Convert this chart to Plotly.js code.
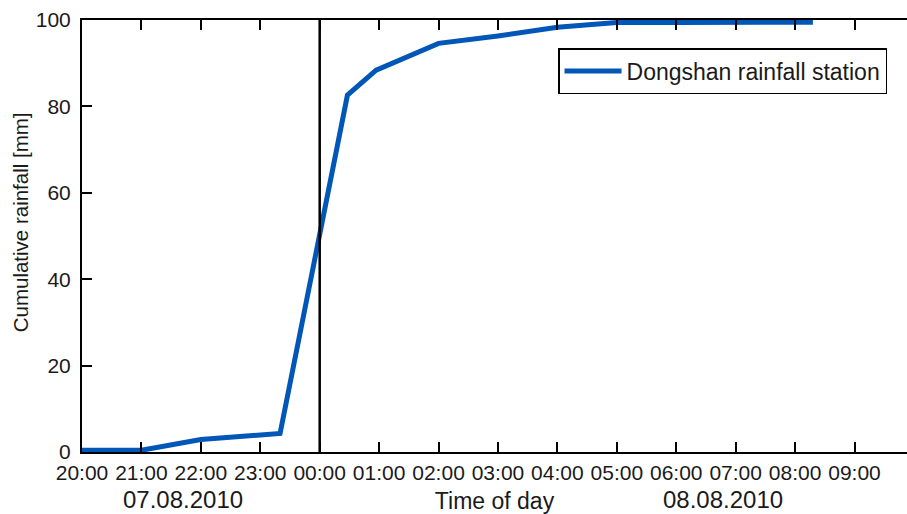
<!DOCTYPE html>
<html>
<head>
<meta charset="utf-8">
<script src="https://cdn.plot.ly/plotly-3.0.1.min.js"></script>
<style>html,body{margin:0;padding:0;background:#fff;}#chart{width:907px;height:514px;}</style>
</head>
<body>
<div id="chart"></div>
<script>
// Data
const times = ['2010-08-07 20:00','2010-08-07 21:00','2010-08-07 22:00','2010-08-07 23:00','2010-08-07 23:20',
  '2010-08-08 00:28','2010-08-08 00:57','2010-08-08 02:00','2010-08-08 03:00','2010-08-08 04:00',
  '2010-08-08 05:00','2010-08-08 06:00','2010-08-08 07:00','2010-08-08 08:00','2010-08-08 08:18'];
const rainfall = [0.4,0.4,2.9,4.1,4.3,82.6,88.4,94.6,96.3,98.3,99.4,99.4,99.4,99.4,99.5];
const seriesName = 'Dongshan rainfall station';
const markerTime = '2010-08-08 00:00';
const dateLabels = ['07.08.2010','08.08.2010'];
const xTitle = 'Time of day';
const yTitle = 'Cumulative rainfall [mm]';

const font = 'Liberation Sans, Arial, Helvetica, sans-serif';
const txt = '#1a1a1a';
const trace = {
  x: times, y: rainfall, type: 'scatter', mode: 'lines', name: seriesName,
  line: {color: '#0057b7', width: 5}
};
const layout = {
  width: 907, height: 514,
  margin: {l: 82, r: 0, t: 20, b: 62},
  paper_bgcolor: '#fff', plot_bgcolor: '#fff',
  font: {family: font, size: 21, color: txt},
  showlegend: true,
  legend: {x: 0.577, y: 0.935, xanchor: 'left', yanchor: 'top', bordercolor: '#000', borderwidth: 1.5,
    itemwidth: 57, bgcolor: '#fff', font: {size: 23, family: font, color: txt}},
  xaxis: {
    type: 'date', range: ['2010-08-07 20:00', '2010-08-08 09:53'],
    tickformat: '%H:%M', dtick: 3600000, tick0: '2010-08-07 20:00',
    ticks: 'inside', ticklen: 10, tickwidth: 2, tickcolor: '#000', ticklabelstandoff: 1,
    showline: true, linecolor: '#000', linewidth: 2, mirror: 'ticks',
    showgrid: false, zeroline: false,
    tickfont: {size: 21, family: font, color: txt},
    title: {text: xTitle, font: {size: 23, family: font, color: txt}, standoff: 27}
  },
  yaxis: {
    range: [0, 100], dtick: 20,
    ticks: 'inside', ticklen: 10, tickwidth: 2, tickcolor: '#000', ticklabelstandoff: 5,
    showline: true, linecolor: '#000', linewidth: 2, mirror: false,
    showgrid: false, zeroline: false,
    tickfont: {size: 21, family: font, color: txt}
  },
  shapes: [{type: 'line', xref: 'x', yref: 'paper', x0: markerTime, x1: markerTime, y0: 0, y1: 1,
    line: {color: '#000', width: 2.5}}],
  annotations: [
    {text: yTitle, xref: 'paper', yref: 'paper', x: -0.075, y: 0.532, showarrow: false, textangle: -90,
      xanchor: 'center', yanchor: 'middle', font: {size: 20.5, family: font, color: txt}},
    {text: dateLabels[0], xref: 'paper', yref: 'paper', x: 0.122, y: -0.111, showarrow: false,
      xanchor: 'center', yanchor: 'middle', borderpad: 0, font: {size: 24, family: font, color: txt}},
    {text: dateLabels[1], xref: 'paper', yref: 'paper', x: 0.777, y: -0.111, showarrow: false,
      xanchor: 'center', yanchor: 'middle', borderpad: 0, font: {size: 24, family: font, color: txt}}
  ]
};
Plotly.newPlot('chart', [trace], layout, {displayModeBar: false, staticPlot: true});
</script>
</body>
</html>
